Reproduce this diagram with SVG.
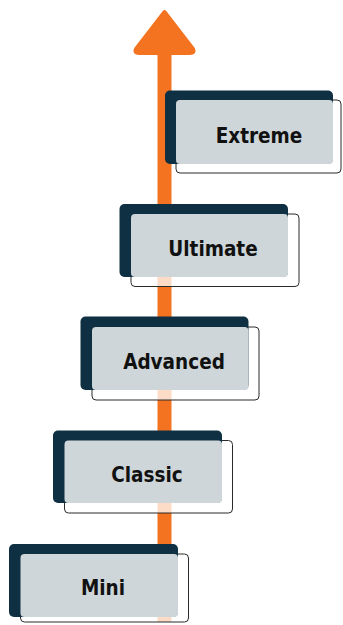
<svg xmlns="http://www.w3.org/2000/svg" width="343" height="625" viewBox="0 0 343 625">
<style>
.dark{fill:#0e3042}
.light{fill:#ced6d9}
.outline{fill:#ffffff;fill-opacity:0.75;stroke:#2a2a2a;stroke-width:1}
.label{font-family:"DejaVu Sans Condensed","Liberation Sans",Arial,sans-serif;font-stretch:condensed;font-weight:bold;font-size:20.5px;fill:#111111;text-anchor:middle;dominant-baseline:central}
</style>
<rect width="343" height="625" fill="#ffffff"/>
<g id="connectors">
<rect x="157.5" y="48" width="14" height="574" fill="#f37321"/>
<path d="M164.5 12 L193 49 Q195 53 190 53 L139 53 Q134 53 136 49 Z" fill="#f37321" stroke="#f37321" stroke-width="4" stroke-linejoin="round"/>
</g>
<g id="node-mini">
<rect class="outline" x="20.5" y="554" width="168" height="68" rx="4"/>
<rect class="dark" x="9" y="544" width="169" height="73" rx="5"/>
<rect class="light" x="20.5" y="554" width="157.5" height="63" rx="4"/>
<text class="label" x="103" y="587.5">Mini</text>
</g>
<g id="node-classic">
<rect class="outline" x="64.5" y="440.5" width="168" height="72.5" rx="4"/>
<rect class="dark" x="53" y="430.5" width="169" height="72.5" rx="5"/>
<rect class="light" x="64.5" y="440.5" width="157.5" height="62.5" rx="4"/>
<text class="label" x="147" y="474.5">Classic</text>
</g>
<g id="node-advanced">
<rect class="outline" x="92" y="327" width="167" height="73" rx="4"/>
<rect class="dark" x="80.5" y="316.5" width="168" height="73.5" rx="5"/>
<rect class="light" x="92" y="327" width="156.5" height="63" rx="4"/>
<text class="label" x="174" y="361.5">Advanced</text>
</g>
<g id="node-ultimate">
<rect class="outline" x="131" y="214" width="168" height="72.5" rx="4"/>
<rect class="dark" x="119.5" y="204" width="168.5" height="73" rx="5"/>
<rect class="light" x="131" y="214" width="157" height="63" rx="4"/>
<text class="label" x="213" y="248.5">Ultimate</text>
</g>
<g id="node-extreme">
<rect class="outline" x="176" y="100" width="165" height="73" rx="4"/>
<rect class="dark" x="165" y="90.5" width="168" height="73.5" rx="5"/>
<rect class="light" x="176" y="100" width="157" height="64" rx="4"/>
<text class="label" x="259" y="135.5">Extreme</text>
</g>
</svg>
